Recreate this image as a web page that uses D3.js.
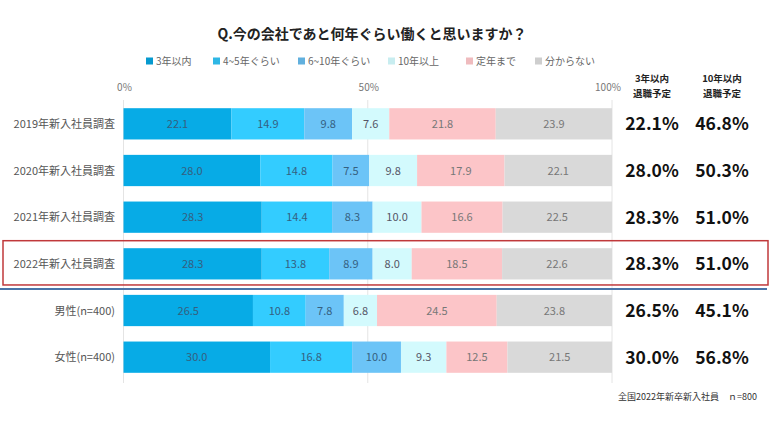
<!DOCTYPE html>
<html>
<head>
<meta charset="utf-8">
<script src="https://cdn.jsdelivr.net/npm/d3@7"></script>
<style>
  body { margin: 0; background: #fff; }
  svg { font-family: "Noto Sans CJK JP", "Noto Sans", sans-serif; }
</style>
</head>
<body>
<div id="chart"></div>
<script>
// data
var rows = ["2019年新入社員調査", "2020年新入社員調査", "2021年新入社員調査", "2022年新入社員調査", "男性(n=400)", "女性(n=400)"];
var answers = ["3年以内", "4~5年ぐらい", "6~10年ぐらい", "10年以上", "定年まで", "分からない"];
var within3 = [22.1, 28.0, 28.3, 28.3, 26.5, 30.0];
var years4to5 = [14.9, 14.8, 14.4, 13.8, 10.8, 16.8];
var years6to10 = [9.8, 7.5, 8.3, 8.9, 7.8, 10.0];
var over10 = [7.6, 9.8, 10.0, 8.0, 6.8, 9.3];
var retire = [21.8, 17.9, 16.6, 18.5, 24.5, 12.5];
var unknown = [23.9, 22.1, 22.5, 22.6, 23.8, 21.5];
var quit3 = ["22.1%", "28.0%", "28.3%", "28.3%", "26.5%", "30.0%"];
var quit10 = ["46.8%", "50.3%", "51.0%", "51.0%", "45.1%", "56.8%"];
var ticks = [0, 50, 100];

var colors = ["#07ABE6", "#33CCFF", "#6CC4F7", "#D3FAFD", "#FCC5C8", "#D9D9D9"];
var textColors = ["#35607f", "#35607f", "#35607f", "#556", "#777", "#777"];

var width = 780, height = 424;
var svg = d3.select("#chart").append("svg")
    .attr("width", width)
    .attr("height", height);

var series = [within3, years4to5, years6to10, over10, retire, unknown];
var table = rows.map(function(r, i) {
    var d = {row: r};
    answers.forEach(function(a, j) { d[a] = series[j][i]; });
    return d;
});
var stacked = d3.stack().keys(answers)(table);

var x = d3.scaleLinear().domain([0, 100]).range([123.5, 612]);
var y = d3.scaleBand().domain(rows).range([100.5, 380.5]).paddingInner(0.33).paddingOuter(0.165);

// title
svg.append("text")
    .attr("x", 372).attr("y", 39)
    .attr("text-anchor", "middle")
    .attr("font-size", 14).attr("font-weight", "bold").attr("fill", "#222")
    .text("Q.今の会社であと何年ぐらい働くと思いますか？");

// legend
var legendX = [146, 213, 298, 388, 466, 535];
var legend = svg.selectAll(".legend").data(answers).enter().append("g")
    .attr("class", "legend")
    .attr("transform", function(d, i) { return "translate(" + legendX[i] + ",61)"; });
legend.append("rect")
    .attr("x", 0).attr("y", -3.5).attr("width", 7).attr("height", 7)
    .attr("fill", function(d, i) { return i < 3 ? d3.color(colors[i]).darker(0.3) : d3.color(colors[i]).darker(0.15); });
legend.append("text")
    .attr("x", 10).attr("y", 3.8)
    .attr("font-size", 10).attr("fill", "#666")
    .text(function(d) { return d; });

// grid lines
svg.selectAll(".grid").data(ticks).enter().append("line")
    .attr("class", "grid")
    .attr("x1", function(d) { return x(d); }).attr("x2", function(d) { return x(d); })
    .attr("y1", 100).attr("y2", 383)
    .attr("stroke", "#e4e4e4").attr("stroke-width", 1);

// axis labels on top
svg.selectAll(".tick-label").data(ticks).enter().append("text")
    .attr("class", "tick-label")
    .attr("x", function(d) { return d == 100 ? x(d) - 4 : x(d) + 1; })
    .attr("y", 91)
    .attr("text-anchor", "middle")
    .attr("font-size", 10).attr("fill", "#777")
    .text(function(d) { return d + "%"; });

// bars
var layer = svg.selectAll(".layer").data(stacked).enter().append("g")
    .attr("class", "layer");
layer.selectAll("rect").data(function(d) { return d; }).enter().append("rect")
    .attr("x", function(d) { return x(d[0]); })
    .attr("y", function(d) { return y(d.data.row); })
    .attr("width", function(d) { return Math.max(0, x(Math.min(d[1], 100)) - x(d[0])); })
    .attr("height", y.bandwidth())
    .attr("fill", function(d) { return colors[answers.indexOf(this.parentNode.__data__.key)]; });

layer.each(function(s, j) {
    d3.select(this).selectAll("text.val").data(s).enter().append("text")
        .attr("class", "val")
        .attr("x", function(d) { return x((d[0] + Math.min(d[1], 100)) / 2); })
        .attr("y", function(d) { return y(d.data.row) + y.bandwidth() / 2 + 4; })
        .attr("text-anchor", "middle")
        .attr("font-size", 11).attr("fill", textColors[j])
        .text(function(d) { return d.data[s.key].toFixed(1); });
});

// row labels
svg.selectAll(".row-label").data(rows).enter().append("text")
    .attr("class", "row-label")
    .attr("x", 115)
    .attr("y", function(d) { return y(d) + y.bandwidth() / 2 + 4; })
    .attr("text-anchor", "end")
    .attr("font-size", 11).attr("fill", "#555")
    .text(function(d) { return d; });

// right columns
var colX = [652, 722];
var heads = [["3年以内", "退職予定"], ["10年以内", "退職予定"]];
heads.forEach(function(h, i) {
    h.forEach(function(t, k) {
        svg.append("text")
            .attr("x", colX[i]).attr("y", 82 + k * 15)
            .attr("text-anchor", "middle")
            .attr("font-size", 9.5).attr("font-weight", "bold").attr("fill", "#222")
            .text(t);
    });
});
[quit3, quit10].forEach(function(vals, i) {
    svg.selectAll(".pct" + i).data(vals).enter().append("text")
        .attr("class", "pct" + i)
        .attr("x", colX[i])
        .attr("y", function(d, k) { return y(rows[k]) + y.bandwidth() / 2 + 6.5; })
        .attr("text-anchor", "middle")
        .attr("font-size", 17.5).attr("font-weight", "bold").attr("fill", "#111")
        .text(function(d) { return d; });
});

// highlight box around 2022 row and separator line
var hl = rows[3];
svg.append("rect")
    .attr("x", 3).attr("y", y(hl) - 7.5)
    .attr("width", 765).attr("height", y.bandwidth() + 13)
    .attr("fill", "none").attr("stroke", "#c0393b").attr("stroke-width", 1.5);
svg.append("line")
    .attr("x1", 0).attr("x2", 767)
    .attr("y1", 289).attr("y2", 289)
    .attr("stroke", "#4a74a8").attr("stroke-width", 2);

// footnote
svg.append("text")
    .attr("x", 757).attr("y", 400)
    .attr("text-anchor", "end")
    .attr("font-size", 9).attr("fill", "#333")
    .text("全国2022年新卒新入社員　ｎ=800");
</script>
</body>
</html>
